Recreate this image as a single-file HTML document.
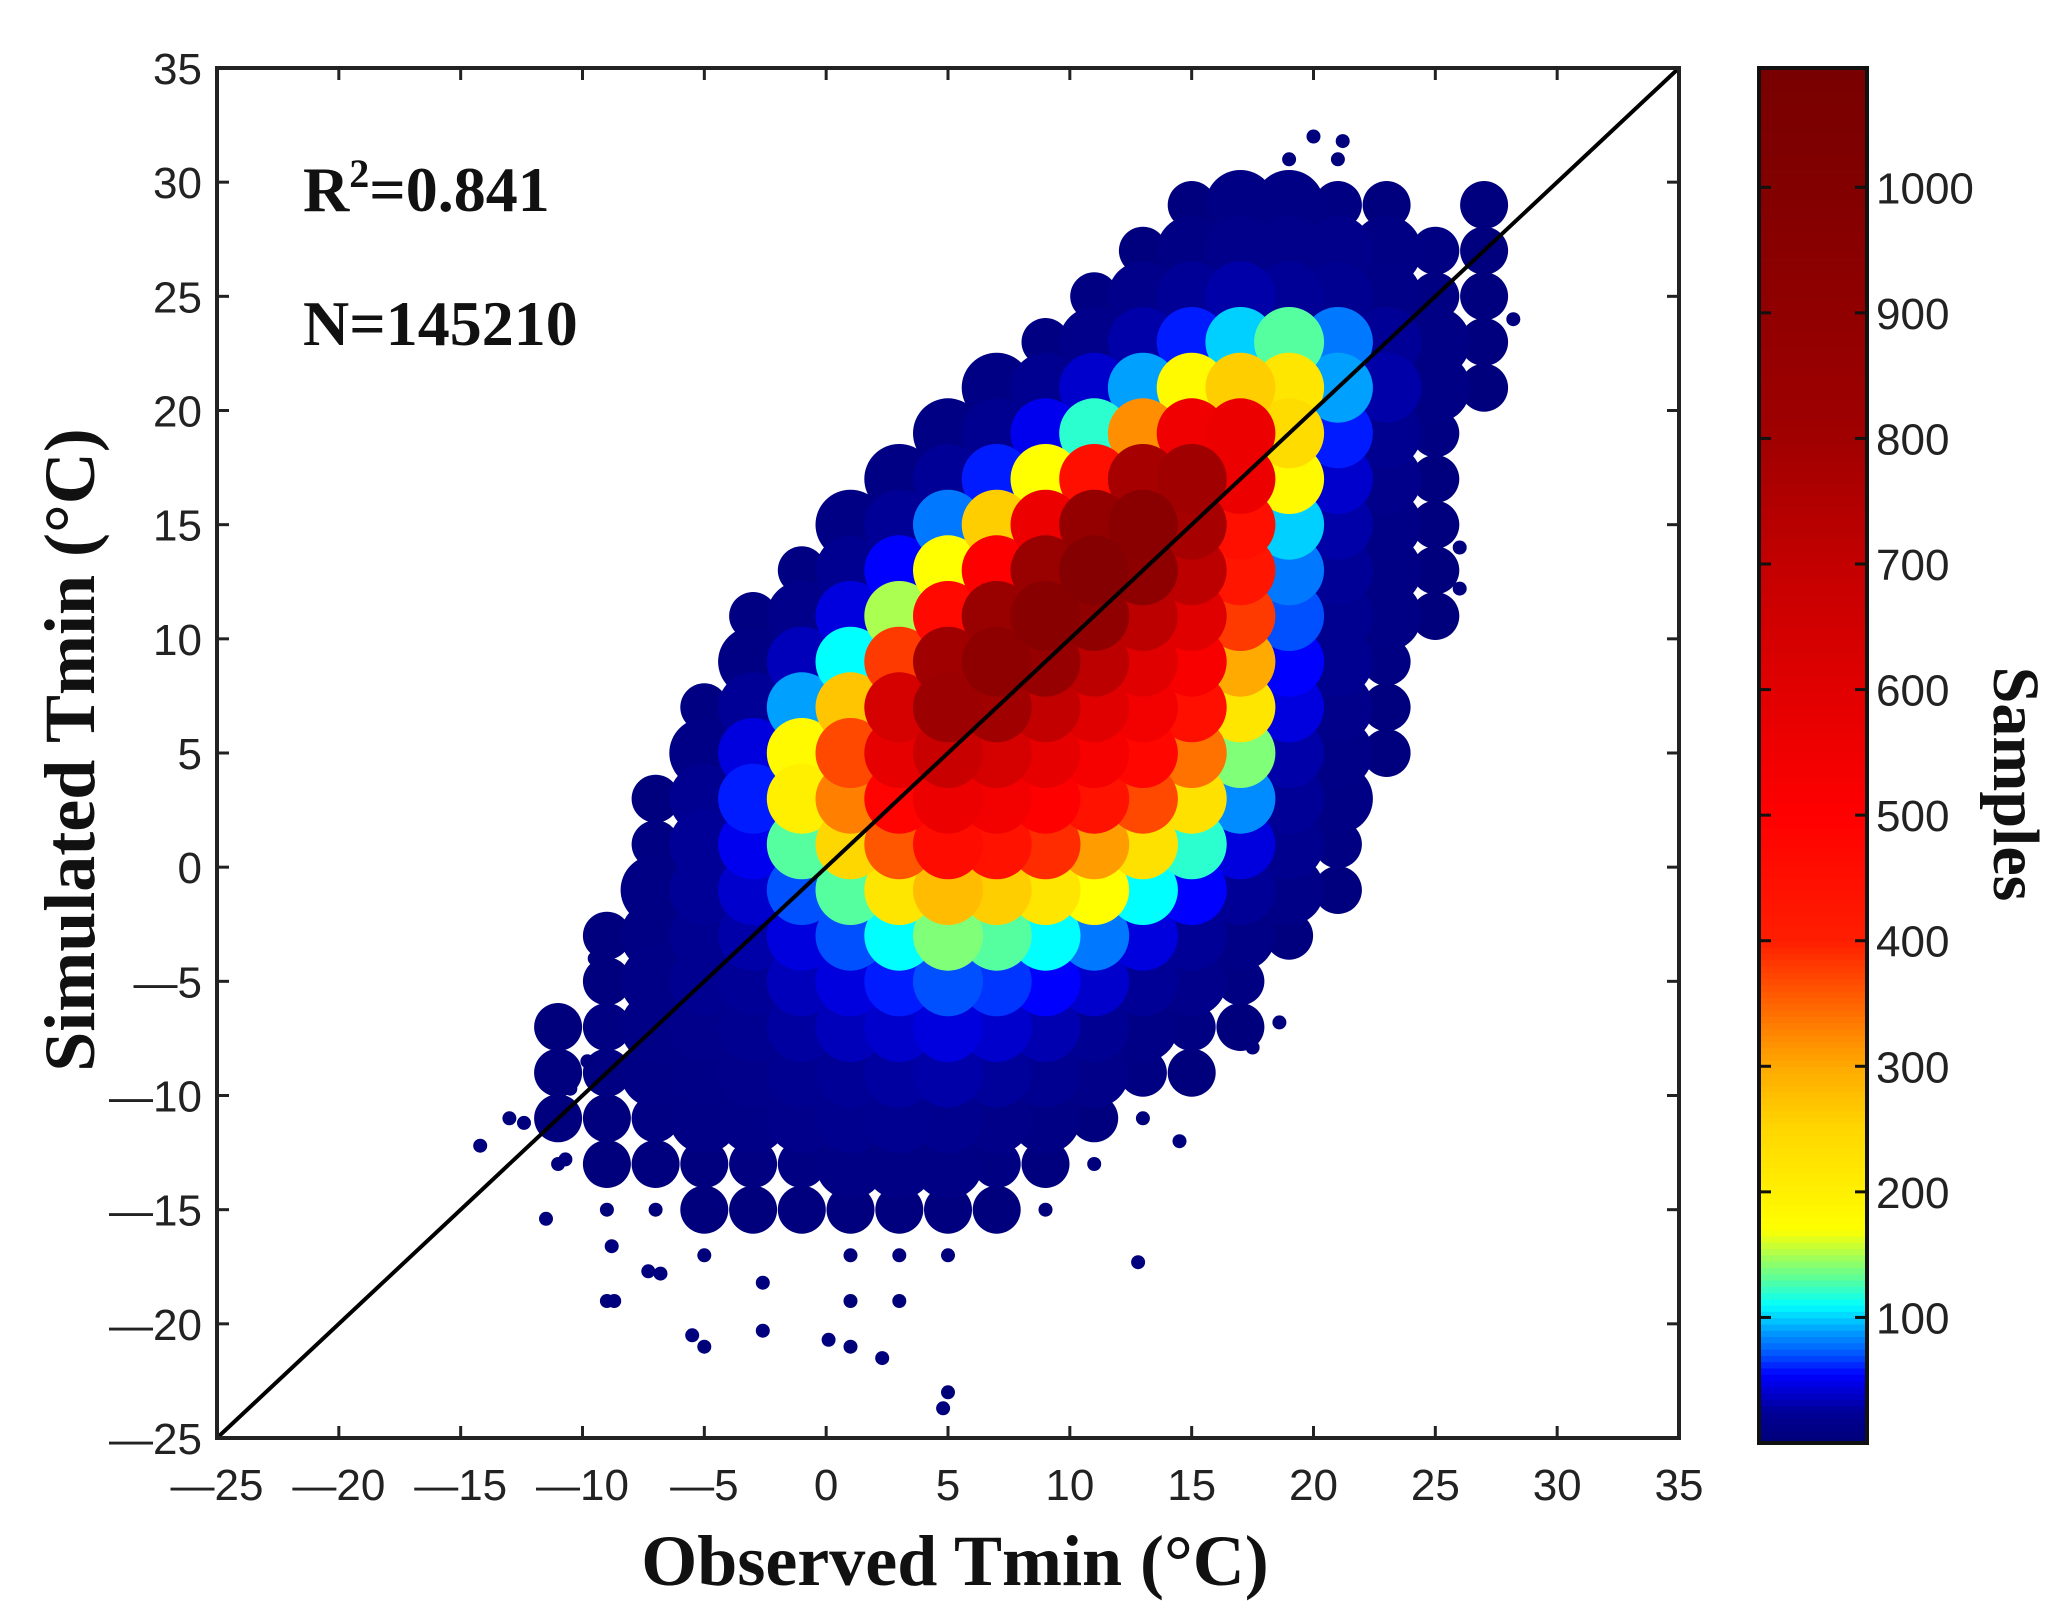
<!DOCTYPE html>
<html><head><meta charset="utf-8"><style>
html,body{margin:0;padding:0;background:#fff;}
svg{display:block;}
.tk{font-family:"Liberation Sans",sans-serif;font-size:44px;fill:#222;}
.tt{font-family:"Liberation Serif",serif;font-weight:bold;fill:#111;}
</style></head><body>
<svg id="chart" width="2054" height="1616" viewBox="0 0 2054 1616">
<defs><clipPath id="pc"><rect x="217" y="68" width="1462" height="1370"/></clipPath></defs>
<rect x="0" y="0" width="2054" height="1616" fill="#fff"/>
<g id="dots" clip-path="url(#pc)"></g>
<g id="line"></g>
<rect x="217" y="68" width="1462" height="1370" fill="none" stroke="#222" stroke-width="4"/>
<g id="axes"></g>
<g id="cbar"></g>
<text class="tt" x="303" y="211" font-size="64">R<tspan font-size="40" dy="-24">2</tspan><tspan dy="24">=0.841</tspan></text>
<text class="tt" x="303" y="345" font-size="64">N=145210</text>
<text class="tt" x="955" y="1585" font-size="72" text-anchor="middle">Observed Tmin (°C)</text>
<text class="tt" x="0" y="0" font-size="72" text-anchor="middle" transform="translate(94,750) rotate(-90)">Simulated Tmin (°C)</text>
<text class="tt" x="0" y="0" font-size="66" text-anchor="middle" transform="translate(1994,784) rotate(90)">Samples</text>
</svg>
<script>
// grid cell centers (°C)
const gridX = [-13,-11,-9,-7,-5,-3,-1,1,3,5,7,9,11,13,15,17,19,21,23,25,27,29];
const gridY = [31,29,27,25,23,21,19,17,15,13,11,9,7,5,3,1,-1,-3,-5,-7,-9,-11,-13,-15,-17,-19,-21,-23];
// estimated sample counts per cell (rows follow gridY, columns follow gridX)
const counts = [
[0,0,0,0,0,0,0,0,0,0,0,0,0,0,0,0,3,3,0,0,0,0],
[0,0,0,0,0,0,0,0,0,0,0,0,0,0,5,10,10,8,5,0,5,0],
[0,0,0,0,0,0,0,0,0,0,0,0,0,5,10,15,15,15,10,8,5,0],
[0,0,0,0,0,0,0,0,0,0,0,0,8,15,25,30,25,20,12,8,5,0],
[0,0,0,0,0,0,0,0,0,0,0,8,15,30,60,100,130,80,25,10,5,0],
[0,0,0,0,0,0,0,0,0,0,10,20,40,90,180,260,220,90,30,10,4,0],
[0,0,0,0,0,0,0,0,0,10,20,50,120,320,550,560,240,60,20,8,0,0],
[0,0,0,0,0,0,0,0,10,25,60,170,450,780,800,560,180,40,15,6,0,0],
[0,0,0,0,0,0,0,10,25,80,260,560,880,950,780,450,100,30,12,5,0,0],
[0,0,0,0,0,0,8,20,55,170,500,850,980,920,720,430,80,25,10,4,0,0],
[0,0,0,0,0,8,15,45,150,470,850,960,900,720,600,380,70,20,10,4,0,0],
[0,0,0,0,0,10,35,110,380,800,920,860,720,600,520,300,55,20,8,0,0,0],
[0,0,0,0,8,25,90,270,640,820,800,700,600,540,450,220,45,15,6,0,0,0],
[0,0,0,0,12,45,180,370,580,680,640,580,530,480,340,140,30,12,5,0,0,0],
[0,0,0,6,20,60,200,330,490,560,540,500,440,370,230,85,25,10,0,0,0,0],
[0,0,0,8,25,50,130,250,360,460,440,390,310,230,120,45,18,8,0,0,0,0],
[0,0,0,10,25,40,70,130,220,280,260,220,170,110,55,25,12,5,0,0,0,0],
[0,0,6,10,20,30,45,70,110,140,130,110,80,45,25,12,6,0,0,0,0,0],
[0,0,6,12,20,25,35,45,60,70,65,55,40,25,15,8,0,0,0,0,0,0],
[0,4,8,12,15,20,28,35,40,45,40,32,22,12,8,4,0,0,0,0,0,0],
[0,5,8,10,12,15,20,25,28,30,26,20,14,8,4,0,0,0,0,0,0,0],
[3,5,6,8,10,12,15,18,20,18,14,10,6,3,0,0,0,0,0,0,0,0],
[0,3,4,5,6,7,9,10,11,10,8,5,3,0,0,0,0,0,0,0,0,0],
[0,0,2,3,4,4,5,6,6,5,4,2,0,0,0,0,0,0,0,0,0,0],
[0,0,0,0,2,0,0,3,3,3,0,0,0,0,0,0,0,0,0,0,0,0],
[0,0,1,0,0,0,0,1,1,0,0,0,0,0,0,0,0,0,0,0,0,0],
[0,0,0,0,1,0,0,1,0,0,0,0,0,0,0,0,0,0,0,0,0,0],
[0,0,0,0,0,0,0,0,0,1,0,0,0,0,0,0,0,0,0,0,0,0]
];
// isolated outlier points [observed, simulated]
const outX = [-14.2,-12.4,-11.5,-10.7,-9.5,-9,-8.8,-8.7,-7.3,-6.8,-5.5,-2.6,-2.6,0.1,2.3,4.8,12.8,18.6,17.5,14.5,20,21.2,28.2,26,26,27,-10.5,-9.8,-4.5];
const outY = [-12.2,-11.2,-15.4,-12.8,-4,-3.5,-16.6,-19,-17.7,-17.8,-20.5,-20.3,-18.2,-20.7,-21.5,-23.7,-17.3,-6.8,-7.9,-12,32,31.8,24,14,12.2,22,-9.7,-8.5,-14.8];
const xTicks = [-25,-20,-15,-10,-5,0,5,10,15,20,25,30,35];
const yTicks = [-25,-20,-15,-10,-5,0,5,10,15,20,25,30,35];
const cbTicks = [100,200,300,400,500,600,700,800,900,1000];
const cbMax = 1095;

const NS = "http://www.w3.org/2000/svg";
const L=217,R=1679,T=68,B=1438;
const sx = v => L + (v+25)/60*(R-L);
const sy = v => B - (v+25)/60*(B-T);
const cbX0=1759, cbX1=1867, cbT=68, cbB=1443;
const cy = v => cbB - v/cbMax*(cbB-cbT);

const stops = [[0,[0,0,120]],[25,[0,0,150]],[40,[0,0,205]],[55,[0,0,255]],[70,[0,80,255]],[90,[0,160,255]],[110,[0,255,255]],[130,[85,255,160]],[150,[170,255,80]],[170,[255,255,0]],[250,[255,215,0]],[300,[255,170,0]],[350,[255,100,0]],[400,[255,30,0]],[500,[255,0,0]],[600,[225,0,0]],[700,[195,0,0]],[800,[160,0,0]],[900,[145,0,0]],[1000,[130,0,0]],[1100,[120,0,0]]];
function col(v){
  for(let i=1;i<stops.length;i++){
    if(v<=stops[i][0]){
      const a=stops[i-1],b=stops[i],t=(v-a[0])/(b[0]-a[0]);
      const c=a[1].map((q,k)=>Math.round(q+(b[1][k]-q)*t));
      return `rgb(${c[0]},${c[1]},${c[2]})`;
    }
  }
  return "rgb(120,0,0)";
}
function mk(tag,attrs,parent){const e=document.createElementNS(NS,tag);for(const k in attrs)e.setAttribute(k,attrs[k]);parent.appendChild(e);return e;}

// density cells, draw ascending
const dots=document.getElementById('dots');
const cells=[];
gridY.forEach((y,i)=>gridX.forEach((x,j)=>{const v=counts[i][j];if(v>0)cells.push([x,y,v]);}));
cells.sort((a,b)=>a[2]-b[2]);
cells.forEach(c=>{
  const r = c[2]<4 ? 7 : (c[2]<10 ? 24 : 35);
  const e=mk('circle',{cx:sx(c[0]).toFixed(1),cy:sy(c[1]).toFixed(1),r:r,fill:col(c[2])},dots);
  
  
});
outX.forEach((x,i)=>{
  const e=mk('circle',{cx:sx(x).toFixed(1),cy:sy(outY[i]).toFixed(1),r:7,fill:col(5)},dots);
  
  
});

// 1:1 line
const ln=mk('line',{x1:sx(-25),y1:sy(-25),x2:sx(35),y2:sy(35),stroke:'#000','stroke-width':4},document.getElementById('line'));



// axes ticks and labels
const ax=document.getElementById('axes');
xTicks.forEach(v=>{
  const x=sx(v);
  if(v>-25&&v<35){
    mk('line',{x1:x,y1:B,x2:x,y2:B-12,stroke:'#222','stroke-width':3},ax);
    mk('line',{x1:x,y1:T,x2:x,y2:T+12,stroke:'#222','stroke-width':3},ax);
  }
  const t=mk('text',{x:x,y:1500,'text-anchor':'middle',class:'tk'},ax);
  t.textContent=(v<0?'\u2014':'')+Math.abs(v);
  
  
});
yTicks.forEach(v=>{
  const y=sy(v);
  if(v>-25&&v<35){
    mk('line',{x1:L,y1:y,x2:L+12,y2:y,stroke:'#222','stroke-width':3},ax);
    mk('line',{x1:R,y1:y,x2:R-12,y2:y,stroke:'#222','stroke-width':3},ax);
  }
  const t=mk('text',{x:202,y:y+16,'text-anchor':'end',class:'tk'},ax);
  t.textContent=(v<0?'\u2014':'')+Math.abs(v);
  
  
});

// colorbar
const cb=document.getElementById('cbar');
for(let v=0;v<cbMax;v+=5){
  const y0=cy(v+5),y1=cy(v);
  mk('rect',{x:cbX0,y:y0.toFixed(2),width:cbX1-cbX0,height:(y1-y0+0.8).toFixed(2),fill:col(v+2.5)},cb);
}
const fr=mk('rect',{x:cbX0,y:cbT,width:cbX1-cbX0,height:cbB-cbT,fill:'none',stroke:'#111','stroke-width':4},cb);


cbTicks.forEach(v=>{
  const y=cy(v);
  mk('line',{x1:cbX0,y1:y,x2:cbX0+12,y2:y,stroke:'#111','stroke-width':3},cb);
  mk('line',{x1:cbX1,y1:y,x2:cbX1-12,y2:y,stroke:'#111','stroke-width':3},cb);
  const t=mk('text',{x:1876,y:y+16,class:'tk'},cb);
  t.textContent=v;
  
  
});
</script>
</body></html>
